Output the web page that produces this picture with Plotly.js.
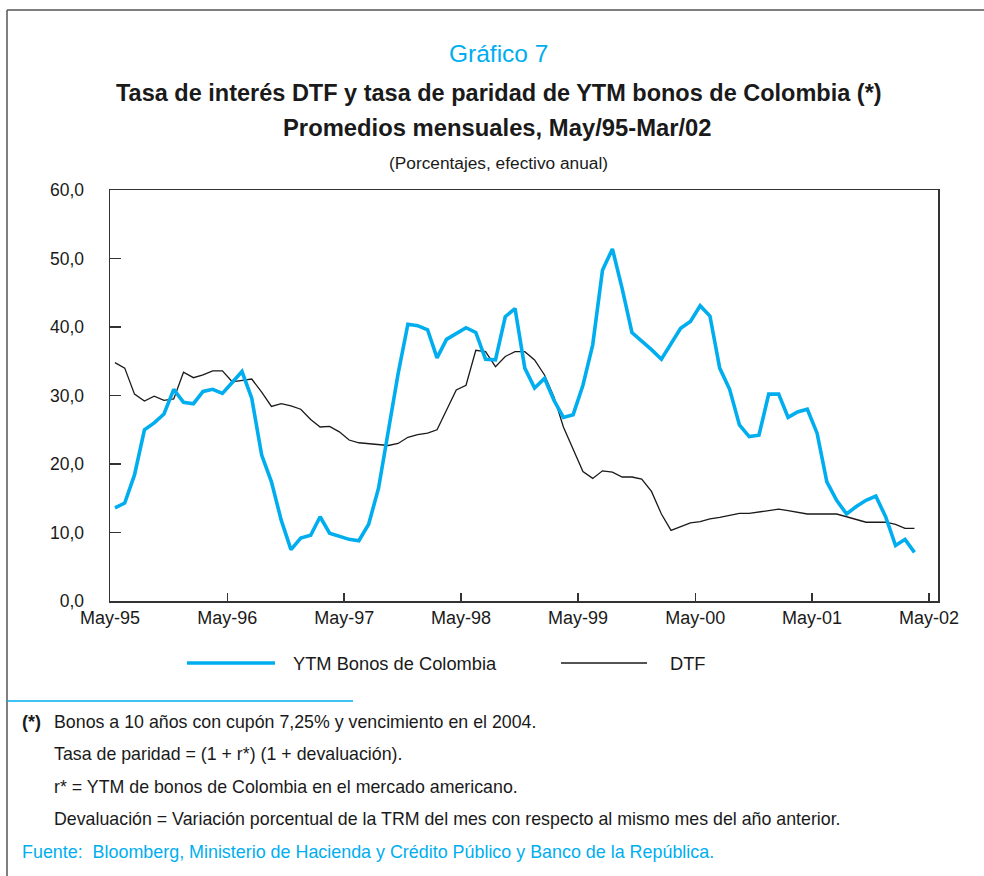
<!DOCTYPE html>
<html>
<head>
<meta charset="utf-8">
<script src="https://cdn.plot.ly/plotly-3.0.1.min.js"></script>
<style>
html,body{margin:0;padding:0;background:#fff;}
#chart{width:984px;height:876px;}
</style>
</head>
<body>
<div id="chart"></div>
<script>
// Months (May-95 .. Mar-02)
const months = [
"1995-05","1995-06","1995-07","1995-08","1995-09","1995-10","1995-11","1995-12",
"1996-01","1996-02","1996-03","1996-04","1996-05","1996-06","1996-07","1996-08","1996-09","1996-10","1996-11","1996-12",
"1997-01","1997-02","1997-03","1997-04","1997-05","1997-06","1997-07","1997-08","1997-09","1997-10","1997-11","1997-12",
"1998-01","1998-02","1998-03","1998-04","1998-05","1998-06","1998-07","1998-08","1998-09","1998-10","1998-11","1998-12",
"1999-01","1999-02","1999-03","1999-04","1999-05","1999-06","1999-07","1999-08","1999-09","1999-10","1999-11","1999-12",
"2000-01","2000-02","2000-03","2000-04","2000-05","2000-06","2000-07","2000-08","2000-09","2000-10","2000-11","2000-12",
"2001-01","2001-02","2001-03","2001-04","2001-05","2001-06","2001-07","2001-08","2001-09","2001-10","2001-11","2001-12",
"2002-01","2002-02","2002-03"
];

// YTM Bonos de Colombia (tasa de paridad)
const ytm = [
13.6,14.3,18.4,25.0,26.0,27.3,30.9,29.0,28.8,30.6,
30.9,30.3,31.9,33.5,29.6,21.3,17.4,11.8,7.5,9.2,
9.6,12.3,9.9,9.4,9.0,8.8,11.2,16.5,25.0,33.2,
40.4,40.2,39.6,35.5,38.2,39.0,39.9,39.2,35.3,35.2,
41.5,42.7,34.0,31.1,32.5,29.3,26.8,27.2,31.5,37.4,
48.3,51.4,45.6,39.2,38.0,36.7,35.3,37.5,39.8,40.8,
43.1,41.6,34.0,30.9,25.7,24.0,24.2,30.2,30.2,26.8,
27.6,28.0,24.5,17.4,14.7,12.7,13.8,14.7,15.3,12.3,
8.1,9.0,7.1
];

// DTF
const dtf = [
34.8,34.0,30.2,29.2,29.9,29.3,29.5,33.4,32.6,33.0,
33.6,33.6,32.0,32.2,32.4,30.5,28.4,28.8,28.5,28.0,
26.5,25.4,25.5,24.7,23.5,23.1,23.0,22.8,22.7,23.0,
23.9,24.3,24.5,25.0,27.9,30.8,31.5,36.6,36.4,34.2,
35.7,36.4,36.4,35.2,33.0,29.8,25.4,22.2,18.9,17.9,
19.0,18.8,18.1,18.1,17.8,16.0,12.7,10.3,10.8,11.4,
11.6,12.0,12.2,12.5,12.8,12.8,13.0,13.2,13.4,13.2,
13.0,12.7,12.7,12.7,12.7,12.3,11.9,11.5,11.5,11.5,
11.2,10.6,10.6
];

const tickDates = ["1995-05-01","1996-05-01","1997-05-01","1998-05-01","1999-05-01","2000-05-01","2001-05-01","2002-05-01"];
const tickLabels = ["May-95","May-96","May-97","May-98","May-99","May-00","May-01","May-02"];
const yTicks = [0,10,20,30,40,50,60];

const seriesNames = ["YTM Bonos de Colombia","DTF"];
const titleTop = "Gráfico 7";
const title1 = "Tasa de interés DTF y tasa de paridad de YTM bonos de Colombia (*)";
const title2 = "Promedios mensuales, May/95-Mar/02";
const subtitle = "(Porcentajes, efectivo anual)";
const notes = [
  "Bonos a 10 años con cupón 7,25% y vencimiento en el 2004.",
  "Tasa de paridad = (1 + r*) (1 + devaluación).",
  "r* = YTM de bonos de Colombia en el mercado americano.",
  "Devaluación = Variación porcentual de la TRM del mes con respecto al mismo mes del año anterior."
];
const source = "Fuente:  Bloomberg, Ministerio de Hacienda y Crédito Público y Banco de la República.";

const BLUE = "#00AEEF";
const INK = "#1a1a1a";
const FONT = "Liberation Sans, Arial, Helvetica, sans-serif";

// plot area in pixels
const L = 110, R = 938, T = 190, B = 601;
const W = 984, H = 876;
const px = x => (x - L) / (R - L);
const py = y => (B - y) / (B - T);

const traces = [
  {x: months, y: dtf, name: seriesNames[1], type: "scatter", mode: "lines",
   xperiod: "M1", xperiodalignment: "middle",
   line: {color: INK, width: 1.3}, hoverinfo: "x+y"},
  {x: months, y: ytm, name: seriesNames[0], type: "scatter", mode: "lines",
   xperiod: "M1", xperiodalignment: "middle",
   line: {color: BLUE, width: 3.6}, hoverinfo: "x+y"}
];

function ann(text, x, y, size, color, anchor) {
  return {
    text: text, xref: "paper", yref: "paper", x: px(x), y: py(y),
    xanchor: anchor || "center", yanchor: "middle", showarrow: false,
    borderpad: 0,
    font: {family: FONT, size: size, color: color || INK}
  };
}

const annotations = [
  ann(titleTop, 498, 53, 24.5, BLUE),
  ann("<b>" + title1 + "</b>", 499, 93, 23.5),
  ann("<b>" + title2 + "</b>", 497, 128, 23.8),
  ann(subtitle, 498, 163, 17.3),
  ann(seriesNames[0], 292, 663, 18.3, INK, "left"),
  ann(seriesNames[1], 669, 663, 18.3, INK, "left"),
  ann("<b>(*)</b>", 21, 722, 18, INK, "left"),
  ann(notes[0], 53, 722, 17.8, INK, "left"),
  ann(notes[1], 53, 754, 17.8, INK, "left"),
  ann(notes[2], 53, 787, 17.8, INK, "left"),
  ann(notes[3], 53, 819, 17.8, INK, "left"),
  ann(source, 21, 852, 17.9, BLUE, "left")
];

const shapes = [
  // outer frame (top and left)
  {type: "line", xref: "paper", yref: "paper", x0: px(7), x1: px(984), y0: py(10), y1: py(10), line: {color: "#555", width: 1.5}},
  {type: "line", xref: "paper", yref: "paper", x0: px(7), x1: px(7), y0: py(10), y1: py(876), line: {color: "#555", width: 1.5}},
  // legend samples
  {type: "line", xref: "paper", yref: "paper", x0: px(187), x1: px(275), y0: py(663), y1: py(663), line: {color: BLUE, width: 3.6}},
  {type: "line", xref: "paper", yref: "paper", x0: px(561), x1: px(647), y0: py(663), y1: py(663), line: {color: INK, width: 1.3}},
  // separator
  {type: "line", xref: "paper", yref: "paper", x0: px(7), x1: px(353), y0: py(701), y1: py(701), line: {color: BLUE, width: 1.5}}
];

const layout = {
  width: W, height: H,
  margin: {l: L, r: W - R, t: T, b: H - B},
  paper_bgcolor: "#fff", plot_bgcolor: "#fff",
  separators: ",.",
  showlegend: false,
  font: {family: FONT, size: 17, color: INK},
  xaxis: {
    type: "date",
    range: ["1995-05-01", "2002-05-29"],
    tickmode: "array", tickvals: tickDates, ticktext: tickLabels,
    ticks: "inside", ticklen: 8, tickwidth: 1.3, tickcolor: "#333",
    showline: true, mirror: true, linecolor: "#333", linewidth: 1.5,
    showgrid: false, zeroline: false,
    tickfont: {family: FONT, size: 18, color: INK}
  },
  yaxis: {
    range: [0, 60],
    tickmode: "array", tickvals: yTicks, tickformat: ".1f",
    ticks: "inside", ticklen: 11, tickwidth: 1.3, tickcolor: "#333",
    showline: true, mirror: true, linecolor: "#333", linewidth: 1.5,
    showgrid: false, zeroline: false,
    ticklabelstandoff: 21,
    tickfont: {family: FONT, size: 17.5, color: INK}
  },
  annotations: annotations,
  shapes: shapes
};

Plotly.newPlot("chart", traces, layout, {staticPlot: true, displayModeBar: false});
</script>
</body>
</html>
